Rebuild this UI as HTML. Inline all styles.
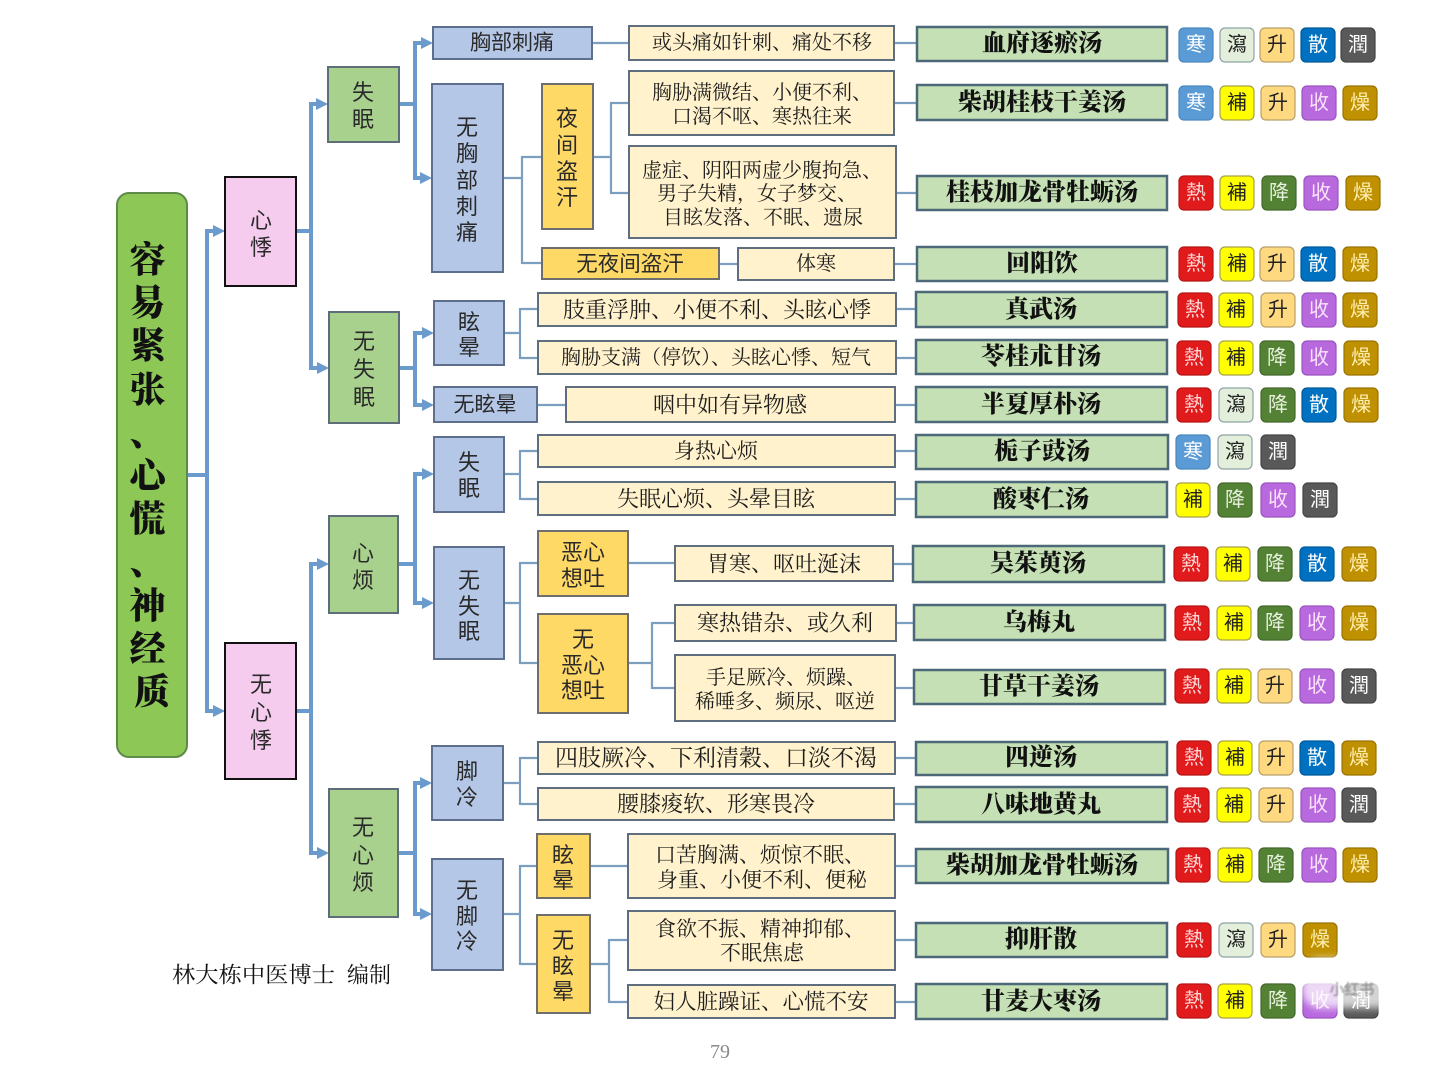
<!DOCTYPE html>
<html lang="zh">
<head>
<meta charset="utf-8">
<style>
  html,body{margin:0;padding:0;background:#fff;}
  body{width:1440px;height:1079px;overflow:hidden;}
  svg{display:block;}
  .sans{font-family:"Liberation Sans","Noto Sans CJK SC",sans-serif;}
  .serif{font-family:"Liberation Serif","Noto Serif CJK SC",serif;}
  text{dominant-baseline:central;text-anchor:middle;}
  .lbl{font-family:"Liberation Sans","Noto Sans CJK SC",sans-serif;font-size:22px;fill:#2a2a2a;}
  .cond{font-family:"Liberation Serif","Noto Serif CJK SC",serif;font-size:20px;fill:#1e1e1e;}
  .form{font-family:"Liberation Serif","Noto Serif CJK SC",serif;font-size:24px;font-weight:900;fill:#111;}
  .thick{stroke:#6A9BCC;stroke-width:4;fill:none;}
  .thin{stroke:#7C9FBF;stroke-width:2.2;fill:none;}
  .title{fill:#8DC756;stroke:#5E8A4A;stroke-width:2;}
  .pink{fill:#F5CCEE;stroke:#111;stroke-width:2;}
  .green{fill:#A9D18E;stroke:#5E6E78;stroke-width:2;}
  .blue{fill:#B4C7E7;stroke:#5D6F8C;stroke-width:2;}
  .orange{fill:#FFD966;stroke:#6E6E6E;stroke-width:2;}
  .cream{fill:#FFF2CC;stroke:#5F6E7E;stroke-width:2;}
  .fbox{fill:#C5E0B4;stroke:#4D6878;stroke-width:2.5;}
  .tg text{font-family:"Liberation Sans","Noto Sans CJK SC",sans-serif;font-size:20px;}
  .tg rect{stroke-width:1.2;}
  .han rect{fill:#5B9BD5;stroke:#4A86BE;} .han text{fill:#fff;}
  .re rect{fill:#E11B1B;stroke:#B81414;} .re text{fill:#FFD6D6;}
  .xie rect{fill:#E3EFDB;stroke:#8FA3A8;} .xie text{fill:#222;}
  .bu rect{fill:#FFFF00;stroke:#A8A24A;} .bu text{fill:#222;}
  .sh rect{fill:#FFD97F;stroke:#B8A06A;} .sh text{fill:#222;}
  .ji rect{fill:#548235;stroke:#43682A;} .ji text{fill:#E8F2DE;}
  .sa rect{fill:#0070C0;stroke:#005A9A;} .sa text{fill:#fff;}
  .so rect{fill:#B869DE;stroke:#9A55BE;} .so text{fill:#FBE3FB;}
  .ru rect{fill:#595959;stroke:#444;} .ru text{fill:#fff;}
  .za rect{fill:#BF9000;stroke:#9A7400;} .za text{fill:#FFEFB0;}
</style>
</head>
<body>
<svg width="1440" height="1079" viewBox="0 0 1440 1079" xmlns="http://www.w3.org/2000/svg">
  <defs>
    <marker id="ah" viewBox="0 0 12 12" refX="6" refY="6" markerWidth="12" markerHeight="12" markerUnits="userSpaceOnUse" orient="auto">
      <path d="M0,0 L12,6 L0,12 z" fill="#6A9BCC"/>
    </marker>
    <filter id="blur" x="-20%" y="-20%" width="140%" height="140%"><feGaussianBlur stdDeviation="4"/></filter>
    <filter id="blur2" x="-20%" y="-20%" width="140%" height="140%"><feGaussianBlur stdDeviation="0.8"/></filter>
  </defs>

  <!-- ===== thick connectors ===== -->
  <g class="thick">
    <path d="M187,475 H209"/>
    <path d="M207,229 V713"/>
    <path d="M207,231 H219" marker-end="url(#ah)"/>
    <path d="M207,711 H219" marker-end="url(#ah)"/>

    <path d="M296,231 H313"/>
    <path d="M311,102 V370"/>
    <path d="M311,104 H322" marker-end="url(#ah)"/>
    <path d="M311,368 H323" marker-end="url(#ah)"/>

    <path d="M296,711 H313"/>
    <path d="M311,562 V855"/>
    <path d="M311,564 H323" marker-end="url(#ah)"/>
    <path d="M311,853 H323" marker-end="url(#ah)"/>

    <path d="M399,104 H417"/>
    <path d="M415,41 V180"/>
    <path d="M415,43 H427" marker-end="url(#ah)"/>
    <path d="M415,178 H426" marker-end="url(#ah)"/>

    <path d="M399,368 H417"/>
    <path d="M415,331 V407"/>
    <path d="M415,333 H428" marker-end="url(#ah)"/>
    <path d="M415,405 H428" marker-end="url(#ah)"/>

    <path d="M398,564 H417"/>
    <path d="M415,472 V605"/>
    <path d="M415,474 H428" marker-end="url(#ah)"/>
    <path d="M415,603 H428" marker-end="url(#ah)"/>

    <path d="M398,853 H417"/>
    <path d="M415,781 V916"/>
    <path d="M415,783 H426" marker-end="url(#ah)"/>
    <path d="M415,914 H426" marker-end="url(#ah)"/>
  </g>

  <!-- ===== thin connectors ===== -->
  <g class="thin">
    <path d="M592,43 H629"/><path d="M894,43 H917"/>
    <path d="M503,178 H523"/><path d="M522,156 V264"/><path d="M522,157 H542"/><path d="M522,263 H542"/>
    <path d="M593,157 H612"/><path d="M611,102 V194"/><path d="M611,103 H629"/><path d="M611,193 H629"/>
    <path d="M894,103 H917"/><path d="M896,193 H917"/>
    <path d="M719,264 H738"/><path d="M894,264 H917"/>
    <path d="M504,333 H521"/><path d="M520,308 V359"/><path d="M520,309 H538"/><path d="M520,358 H538"/>
    <path d="M896,309 H916"/><path d="M896,358 H916"/>
    <path d="M537,405 H566"/><path d="M895,405 H916"/>
    <path d="M504,474 H521"/><path d="M520,450 V500"/><path d="M520,451 H538"/><path d="M520,499 H538"/>
    <path d="M895,451 H916"/><path d="M895,499 H916"/>
    <path d="M504,603 H521"/><path d="M520,562 V664"/><path d="M520,563 H538"/><path d="M520,663 H538"/>
    <path d="M628,563 H675"/><path d="M893,564 H913"/>
    <path d="M628,663 H653"/><path d="M652,622 V689"/><path d="M652,623 H675"/><path d="M652,688 H675"/>
    <path d="M896,623 H914"/><path d="M895,688 H914"/>
    <path d="M503,783 H521"/><path d="M520,757 V805"/><path d="M520,758 H538"/><path d="M520,804 H538"/>
    <path d="M895,758 H916"/><path d="M894,804 H916"/>
    <path d="M503,914 H521"/><path d="M520,865 V965"/><path d="M520,866 H537"/><path d="M520,964 H537"/>
    <path d="M590,866 H628"/><path d="M895,866 H916"/>
    <path d="M590,964 H610"/><path d="M609,939 V1003"/><path d="M609,940 H628"/><path d="M609,1002 H628"/>
    <path d="M895,940 H916"/><path d="M895,1002 H916"/>
  </g>

  <!-- ===== title ===== -->
  <rect class="title" x="117" y="193" width="70" height="564" rx="12"/>
  <text class="serif" style="font-size:36px;font-weight:900;fill:#111;">
    <tspan x="152" y="260">容</tspan>
    <tspan x="152" y="303">易</tspan>
    <tspan x="152" y="346">紧</tspan>
    <tspan x="152" y="390">张</tspan>
    <tspan x="152" y="433">、</tspan>
    <tspan x="152" y="476">心</tspan>
    <tspan x="152" y="519">慌</tspan>
    <tspan x="152" y="562">、</tspan>
    <tspan x="152" y="606">神</tspan>
    <tspan x="152" y="649">经</tspan>
    <tspan x="152" y="692">质</tspan>
  </text>

  <!-- ===== level 2 pink ===== -->
  <rect class="pink" x="225" y="177" width="71" height="109"/>
  <text class="lbl"><tspan x="261" y="220">心</tspan><tspan x="261" y="247">悸</tspan></text>
  <rect class="pink" x="225" y="643" width="71" height="136"/>
  <text class="lbl"><tspan x="261" y="684">无</tspan><tspan x="261" y="712">心</tspan><tspan x="261" y="740">悸</tspan></text>

  <!-- ===== level 3 green ===== -->
  <rect class="green" x="328" y="67" width="71" height="75"/>
  <text class="lbl"><tspan x="363" y="92">失</tspan><tspan x="363" y="119">眠</tspan></text>
  <rect class="green" x="329" y="312" width="70" height="111"/>
  <text class="lbl"><tspan x="364" y="341">无</tspan><tspan x="364" y="369">失</tspan><tspan x="364" y="397">眠</tspan></text>
  <rect class="green" x="329" y="516" width="69" height="97"/>
  <text class="lbl"><tspan x="363" y="553">心</tspan><tspan x="363" y="580">烦</tspan></text>
  <rect class="green" x="329" y="789" width="69" height="128"/>
  <text class="lbl"><tspan x="363" y="827">无</tspan><tspan x="363" y="855">心</tspan><tspan x="363" y="882">烦</tspan></text>

  <!-- ===== level 4 blue ===== -->
  <rect class="blue" x="433" y="27" width="159" height="32"/>
  <text class="lbl" x="512" y="43" style="font-size:21px">胸部刺痛</text>
  <rect class="blue" x="432" y="84" width="71" height="188"/>
  <text class="lbl"><tspan x="467" y="127">无</tspan><tspan x="467" y="153">胸</tspan><tspan x="467" y="180">部</tspan><tspan x="467" y="206">刺</tspan><tspan x="467" y="232">痛</tspan></text>
  <rect class="blue" x="434" y="301" width="70" height="64"/>
  <text class="lbl"><tspan x="469" y="322">眩</tspan><tspan x="469" y="347">晕</tspan></text>
  <rect class="blue" x="434" y="387" width="103" height="35"/>
  <text class="lbl" x="485" y="405" style="font-size:21px">无眩晕</text>
  <rect class="blue" x="434" y="437" width="70" height="75"/>
  <text class="lbl"><tspan x="469" y="462">失</tspan><tspan x="469" y="488">眠</tspan></text>
  <rect class="blue" x="434" y="547" width="70" height="112"/>
  <text class="lbl"><tspan x="469" y="580">无</tspan><tspan x="469" y="606">失</tspan><tspan x="469" y="631">眠</tspan></text>
  <rect class="blue" x="432" y="746" width="71" height="74"/>
  <text class="lbl"><tspan x="467" y="771">脚</tspan><tspan x="467" y="797">冷</tspan></text>
  <rect class="blue" x="432" y="859" width="71" height="111"/>
  <text class="lbl"><tspan x="467" y="890">无</tspan><tspan x="467" y="916">脚</tspan><tspan x="467" y="941">冷</tspan></text>

  <!-- ===== orange ===== -->
  <rect class="orange" x="542" y="84" width="51" height="145"/>
  <text class="lbl"><tspan x="567" y="118">夜</tspan><tspan x="567" y="145">间</tspan><tspan x="567" y="171">盗</tspan><tspan x="567" y="197">汗</tspan></text>
  <rect class="orange" x="542" y="248" width="177" height="31"/>
  <text class="lbl" x="630" y="264" style="font-size:21.5px">无夜间盗汗</text>
  <rect class="orange" x="538" y="531" width="90" height="65"/>
  <text class="lbl"><tspan x="583" y="552">恶心</tspan><tspan x="583" y="578">想吐</tspan></text>
  <rect class="orange" x="538" y="614" width="90" height="99"/>
  <text class="lbl"><tspan x="583" y="639">无</tspan><tspan x="583" y="665">恶心</tspan><tspan x="583" y="690">想吐</tspan></text>
  <rect class="orange" x="537" y="834" width="53" height="64"/>
  <text class="lbl"><tspan x="563" y="855">眩</tspan><tspan x="563" y="880">晕</tspan></text>
  <rect class="orange" x="537" y="915" width="53" height="98"/>
  <text class="lbl"><tspan x="563" y="940">无</tspan><tspan x="563" y="966">眩</tspan><tspan x="563" y="991">晕</tspan></text>

  <!-- ===== condition boxes ===== -->
  <rect class="cream" x="629" y="26" width="265" height="34"/>
  <text class="cond" x="762" y="43">或头痛如针刺、痛处不移</text>
  <rect class="cream" x="629" y="71" width="265" height="64"/>
  <text class="cond"><tspan x="762" y="93">胸胁满微结、小便不利、</tspan><tspan x="762" y="117">口渴不呕、寒热往来</tspan></text>
  <rect class="cream" x="629" y="146" width="267" height="92"/>
  <text class="cond"><tspan x="762" y="171">虚症、阴阳两虚少腹拘急、</tspan><tspan x="757" y="194">男子失精，女子梦交、</tspan><tspan x="763" y="218">目眩发落、不眠、遗尿</tspan></text>
  <rect class="cream" x="738" y="248" width="156" height="32"/>
  <text class="cond" x="816" y="264">体寒</text>
  <rect class="cream" x="538" y="293" width="358" height="33"/>
  <text class="cond" x="717" y="310" style="font-size:22px">肢重浮肿、小便不利、头眩心悸</text>
  <rect class="cream" x="538" y="341" width="358" height="33"/>
  <text class="cond" x="716" y="358">胸胁支满（停饮）、头眩心悸、短气</text>
  <rect class="cream" x="566" y="387" width="329" height="35"/>
  <text class="cond" x="730" y="405" style="font-size:22px">咽中如有异物感</text>
  <rect class="cream" x="538" y="435" width="357" height="32"/>
  <text class="cond" x="716" y="451" style="font-size:21px">身热心烦</text>
  <rect class="cream" x="538" y="482" width="357" height="33"/>
  <text class="cond" x="716" y="499" style="font-size:22px">失眠心烦、头晕目眩</text>
  <rect class="cream" x="675" y="546" width="218" height="35"/>
  <text class="cond" x="784" y="564" style="font-size:22px">胃寒、呕吐涎沫</text>
  <rect class="cream" x="675" y="605" width="221" height="36"/>
  <text class="cond" x="785" y="623" style="font-size:22px">寒热错杂、或久利</text>
  <rect class="cream" x="675" y="655" width="220" height="66"/>
  <text class="cond"><tspan x="786" y="678">手足厥冷、烦躁、</tspan><tspan x="785" y="702">稀唾多、频尿、呕逆</tspan></text>
  <rect class="cream" x="538" y="742" width="357" height="32"/>
  <text class="cond" x="716" y="758" style="font-size:23px">四肢厥冷、下利清穀、口淡不渴</text>
  <rect class="cream" x="538" y="788" width="356" height="32"/>
  <text class="cond" x="716" y="804" style="font-size:22px">腰膝痠软、形寒畏冷</text>
  <rect class="cream" x="628" y="834" width="267" height="64"/>
  <text class="cond" style="font-size:21px"><tspan x="760" y="855">口苦胸满、烦惊不眠、</tspan><tspan x="762" y="880">身重、小便不利、便秘</tspan></text>
  <rect class="cream" x="628" y="911" width="267" height="59"/>
  <text class="cond" style="font-size:21px"><tspan x="760" y="929">食欲不振、精神抑郁、</tspan><tspan x="762" y="953">不眠焦虑</tspan></text>
  <rect class="cream" x="628" y="985" width="267" height="33"/>
  <text class="cond" x="761" y="1002" style="font-size:21.5px">妇人脏躁证、心慌不安</text>

  <!-- ===== formula boxes ===== -->
  <rect class="fbox" x="917" y="27" width="250" height="34"/><text class="form" x="1042" y="44">血府逐瘀汤</text>
  <rect class="fbox" x="917" y="85" width="250" height="35"/><text class="form" x="1042" y="103">柴胡桂枝干姜汤</text>
  <rect class="fbox" x="917" y="176" width="250" height="34"/><text class="form" x="1042" y="193">桂枝加龙骨牡蛎汤</text>
  <rect class="fbox" x="917" y="247" width="250" height="34"/><text class="form" x="1042" y="264">回阳饮</text>
  <rect class="fbox" x="916" y="292" width="251" height="35"/><text class="form" x="1041" y="310">真武汤</text>
  <rect class="fbox" x="916" y="340" width="251" height="34"/><text class="form" x="1041" y="357">苓桂朮甘汤</text>
  <rect class="fbox" x="916" y="387" width="251" height="35"/><text class="form" x="1041" y="405">半夏厚朴汤</text>
  <rect class="fbox" x="916" y="435" width="252" height="34"/><text class="form" x="1042" y="452">栀子豉汤</text>
  <rect class="fbox" x="916" y="482" width="251" height="35"/><text class="form" x="1041" y="500">酸枣仁汤</text>
  <rect class="fbox" x="913" y="546" width="251" height="36"/><text class="form" x="1038" y="564">吴茱萸汤</text>
  <rect class="fbox" x="914" y="605" width="251" height="35"/><text class="form" x="1039" y="623">乌梅丸</text>
  <rect class="fbox" x="914" y="670" width="251" height="34"/><text class="form" x="1039" y="687">甘草干姜汤</text>
  <rect class="fbox" x="916" y="742" width="251" height="33"/><text class="form" x="1041" y="758">四逆汤</text>
  <rect class="fbox" x="916" y="787" width="251" height="35"/><text class="form" x="1041" y="805">八味地黄丸</text>
  <rect class="fbox" x="916" y="849" width="252" height="34"/><text class="form" x="1042" y="866">柴胡加龙骨牡蛎汤</text>
  <rect class="fbox" x="916" y="923" width="251" height="34"/><text class="form" x="1041" y="940">抑肝散</text>
  <rect class="fbox" x="916" y="984" width="251" height="35"/><text class="form" x="1041" y="1002">甘麦大枣汤</text>

  <!-- ===== tags ===== -->
  <!-- row 1 -->
  <g class="tg han" transform="translate(1179,28)"><rect width="34" height="34" rx="5"/><text x="17" y="17">寒</text></g>
  <g class="tg xie" transform="translate(1220,28)"><rect width="34" height="34" rx="5"/><text x="17" y="17">瀉</text></g>
  <g class="tg sh" transform="translate(1260,28)"><rect width="34" height="34" rx="5"/><text x="17" y="17">升</text></g>
  <g class="tg sa" transform="translate(1301,28)"><rect width="34" height="34" rx="5"/><text x="17" y="17">散</text></g>
  <g class="tg ru" transform="translate(1341,28)"><rect width="34" height="34" rx="5"/><text x="17" y="17">潤</text></g>
  <!-- row 2 -->
  <g class="tg han" transform="translate(1179,86)"><rect width="34" height="34" rx="5"/><text x="17" y="17">寒</text></g>
  <g class="tg bu" transform="translate(1220,86)"><rect width="34" height="34" rx="5"/><text x="17" y="17">補</text></g>
  <g class="tg sh" transform="translate(1261,86)"><rect width="34" height="34" rx="5"/><text x="17" y="17">升</text></g>
  <g class="tg so" transform="translate(1302,86)"><rect width="34" height="34" rx="5"/><text x="17" y="17">收</text></g>
  <g class="tg za" transform="translate(1343,86)"><rect width="34" height="34" rx="5"/><text x="17" y="17">燥</text></g>
  <!-- row 3 -->
  <g class="tg re" transform="translate(1179,176)"><rect width="34" height="34" rx="5"/><text x="17" y="17">熱</text></g>
  <g class="tg bu" transform="translate(1220,176)"><rect width="34" height="34" rx="5"/><text x="17" y="17">補</text></g>
  <g class="tg ji" transform="translate(1262,176)"><rect width="34" height="34" rx="5"/><text x="17" y="17">降</text></g>
  <g class="tg so" transform="translate(1304,176)"><rect width="34" height="34" rx="5"/><text x="17" y="17">收</text></g>
  <g class="tg za" transform="translate(1346,176)"><rect width="34" height="34" rx="5"/><text x="17" y="17">燥</text></g>
  <!-- row 4 -->
  <g class="tg re" transform="translate(1179,247)"><rect width="34" height="34" rx="5"/><text x="17" y="17">熱</text></g>
  <g class="tg bu" transform="translate(1220,247)"><rect width="34" height="34" rx="5"/><text x="17" y="17">補</text></g>
  <g class="tg sh" transform="translate(1260,247)"><rect width="34" height="34" rx="5"/><text x="17" y="17">升</text></g>
  <g class="tg sa" transform="translate(1301,247)"><rect width="34" height="34" rx="5"/><text x="17" y="17">散</text></g>
  <g class="tg za" transform="translate(1343,247)"><rect width="34" height="34" rx="5"/><text x="17" y="17">燥</text></g>
  <!-- row 5 -->
  <g class="tg re" transform="translate(1178,293)"><rect width="34" height="34" rx="5"/><text x="17" y="17">熱</text></g>
  <g class="tg bu" transform="translate(1219,293)"><rect width="34" height="34" rx="5"/><text x="17" y="17">補</text></g>
  <g class="tg sh" transform="translate(1261,293)"><rect width="34" height="34" rx="5"/><text x="17" y="17">升</text></g>
  <g class="tg so" transform="translate(1302,293)"><rect width="34" height="34" rx="5"/><text x="17" y="17">收</text></g>
  <g class="tg za" transform="translate(1343,293)"><rect width="34" height="34" rx="5"/><text x="17" y="17">燥</text></g>
  <!-- row 6 -->
  <g class="tg re" transform="translate(1177,341)"><rect width="34" height="34" rx="5"/><text x="17" y="17">熱</text></g>
  <g class="tg bu" transform="translate(1219,341)"><rect width="34" height="34" rx="5"/><text x="17" y="17">補</text></g>
  <g class="tg ji" transform="translate(1260,341)"><rect width="34" height="34" rx="5"/><text x="17" y="17">降</text></g>
  <g class="tg so" transform="translate(1302,341)"><rect width="34" height="34" rx="5"/><text x="17" y="17">收</text></g>
  <g class="tg za" transform="translate(1344,341)"><rect width="34" height="34" rx="5"/><text x="17" y="17">燥</text></g>
  <!-- row 7 -->
  <g class="tg re" transform="translate(1177,388)"><rect width="34" height="34" rx="5"/><text x="17" y="17">熱</text></g>
  <g class="tg xie" transform="translate(1219,388)"><rect width="34" height="34" rx="5"/><text x="17" y="17">瀉</text></g>
  <g class="tg ji" transform="translate(1261,388)"><rect width="34" height="34" rx="5"/><text x="17" y="17">降</text></g>
  <g class="tg sa" transform="translate(1302,388)"><rect width="34" height="34" rx="5"/><text x="17" y="17">散</text></g>
  <g class="tg za" transform="translate(1344,388)"><rect width="34" height="34" rx="5"/><text x="17" y="17">燥</text></g>
  <!-- row 8 -->
  <g class="tg han" transform="translate(1176,435)"><rect width="34" height="34" rx="5"/><text x="17" y="17">寒</text></g>
  <g class="tg xie" transform="translate(1218,435)"><rect width="34" height="34" rx="5"/><text x="17" y="17">瀉</text></g>
  <g class="tg ru" transform="translate(1261,435)"><rect width="34" height="34" rx="5"/><text x="17" y="17">潤</text></g>
  <!-- row 9 -->
  <g class="tg bu" transform="translate(1176,483)"><rect width="34" height="34" rx="5"/><text x="17" y="17">補</text></g>
  <g class="tg ji" transform="translate(1218,483)"><rect width="34" height="34" rx="5"/><text x="17" y="17">降</text></g>
  <g class="tg so" transform="translate(1261,483)"><rect width="34" height="34" rx="5"/><text x="17" y="17">收</text></g>
  <g class="tg ru" transform="translate(1303,483)"><rect width="34" height="34" rx="5"/><text x="17" y="17">潤</text></g>
  <!-- row 10 -->
  <g class="tg re" transform="translate(1174,547)"><rect width="34" height="34" rx="5"/><text x="17" y="17">熱</text></g>
  <g class="tg bu" transform="translate(1216,547)"><rect width="34" height="34" rx="5"/><text x="17" y="17">補</text></g>
  <g class="tg ji" transform="translate(1258,547)"><rect width="34" height="34" rx="5"/><text x="17" y="17">降</text></g>
  <g class="tg sa" transform="translate(1300,547)"><rect width="34" height="34" rx="5"/><text x="17" y="17">散</text></g>
  <g class="tg za" transform="translate(1342,547)"><rect width="34" height="34" rx="5"/><text x="17" y="17">燥</text></g>
  <!-- row 11 -->
  <g class="tg re" transform="translate(1175,606)"><rect width="34" height="34" rx="5"/><text x="17" y="17">熱</text></g>
  <g class="tg bu" transform="translate(1217,606)"><rect width="34" height="34" rx="5"/><text x="17" y="17">補</text></g>
  <g class="tg ji" transform="translate(1258,606)"><rect width="34" height="34" rx="5"/><text x="17" y="17">降</text></g>
  <g class="tg so" transform="translate(1300,606)"><rect width="34" height="34" rx="5"/><text x="17" y="17">收</text></g>
  <g class="tg za" transform="translate(1342,606)"><rect width="34" height="34" rx="5"/><text x="17" y="17">燥</text></g>
  <!-- row 12 -->
  <g class="tg re" transform="translate(1175,669)"><rect width="34" height="34" rx="5"/><text x="17" y="17">熱</text></g>
  <g class="tg bu" transform="translate(1217,669)"><rect width="34" height="34" rx="5"/><text x="17" y="17">補</text></g>
  <g class="tg sh" transform="translate(1258,669)"><rect width="34" height="34" rx="5"/><text x="17" y="17">升</text></g>
  <g class="tg so" transform="translate(1300,669)"><rect width="34" height="34" rx="5"/><text x="17" y="17">收</text></g>
  <g class="tg ru" transform="translate(1342,669)"><rect width="34" height="34" rx="5"/><text x="17" y="17">潤</text></g>
  <!-- row 13 -->
  <g class="tg re" transform="translate(1177,741)"><rect width="34" height="34" rx="5"/><text x="17" y="17">熱</text></g>
  <g class="tg bu" transform="translate(1218,741)"><rect width="34" height="34" rx="5"/><text x="17" y="17">補</text></g>
  <g class="tg sh" transform="translate(1259,741)"><rect width="34" height="34" rx="5"/><text x="17" y="17">升</text></g>
  <g class="tg sa" transform="translate(1300,741)"><rect width="34" height="34" rx="5"/><text x="17" y="17">散</text></g>
  <g class="tg za" transform="translate(1342,741)"><rect width="34" height="34" rx="5"/><text x="17" y="17">燥</text></g>
  <!-- row 14 -->
  <g class="tg re" transform="translate(1175,788)"><rect width="34" height="34" rx="5"/><text x="17" y="17">熱</text></g>
  <g class="tg bu" transform="translate(1217,788)"><rect width="34" height="34" rx="5"/><text x="17" y="17">補</text></g>
  <g class="tg sh" transform="translate(1259,788)"><rect width="34" height="34" rx="5"/><text x="17" y="17">升</text></g>
  <g class="tg so" transform="translate(1301,788)"><rect width="34" height="34" rx="5"/><text x="17" y="17">收</text></g>
  <g class="tg ru" transform="translate(1342,788)"><rect width="34" height="34" rx="5"/><text x="17" y="17">潤</text></g>
  <!-- row 15 -->
  <g class="tg re" transform="translate(1176,848)"><rect width="34" height="34" rx="5"/><text x="17" y="17">熱</text></g>
  <g class="tg bu" transform="translate(1218,848)"><rect width="34" height="34" rx="5"/><text x="17" y="17">補</text></g>
  <g class="tg ji" transform="translate(1259,848)"><rect width="34" height="34" rx="5"/><text x="17" y="17">降</text></g>
  <g class="tg so" transform="translate(1302,848)"><rect width="34" height="34" rx="5"/><text x="17" y="17">收</text></g>
  <g class="tg za" transform="translate(1343,848)"><rect width="34" height="34" rx="5"/><text x="17" y="17">燥</text></g>
  <!-- row 16 -->
  <g class="tg re" transform="translate(1177,923)"><rect width="34" height="34" rx="5"/><text x="17" y="17">熱</text></g>
  <g class="tg xie" transform="translate(1219,923)"><rect width="34" height="34" rx="5"/><text x="17" y="17">瀉</text></g>
  <g class="tg sh" transform="translate(1261,923)"><rect width="34" height="34" rx="5"/><text x="17" y="17">升</text></g>
  <g class="tg za" transform="translate(1303,923)"><rect width="34" height="34" rx="5"/><text x="17" y="17">燥</text></g>
  <!-- row 17 -->
  <g class="tg re" transform="translate(1177,984)"><rect width="34" height="34" rx="5"/><text x="17" y="17">熱</text></g>
  <g class="tg bu" transform="translate(1218,984)"><rect width="34" height="34" rx="5"/><text x="17" y="17">補</text></g>
  <g class="tg ji" transform="translate(1261,984)"><rect width="34" height="34" rx="5"/><text x="17" y="17">降</text></g>
  <g class="tg so" transform="translate(1303,984)"><rect width="34" height="34" rx="5"/><text x="17" y="17">收</text></g>
  <g class="tg ru" transform="translate(1344,984)"><rect width="34" height="34" rx="5"/><text x="17" y="17">潤</text></g>

  <!-- watermark overlay -->
  <rect x="1302" y="958" width="98" height="50" rx="18" fill="#ffffff" opacity="0.75" filter="url(#blur)"/>
  <text class="sans" x="1352" y="990" filter="url(#blur2)" style="font-size:15px;font-weight:700;fill:#555;opacity:0.45;">小红书</text>

  <!-- author & page number -->
  <text class="serif" x="172" y="975" style="text-anchor:start;font-size:22px;fill:#111;" textLength="163" lengthAdjust="spacingAndGlyphs">林大栋中医博士</text>
  <text class="serif" x="347" y="975" style="text-anchor:start;font-size:22px;fill:#111;" textLength="44" lengthAdjust="spacingAndGlyphs">编制</text>
  <text class="serif" x="720" y="1052" style="font-size:20px;fill:#8a8a8a;">79</text>
</svg>
</body>
</html>
